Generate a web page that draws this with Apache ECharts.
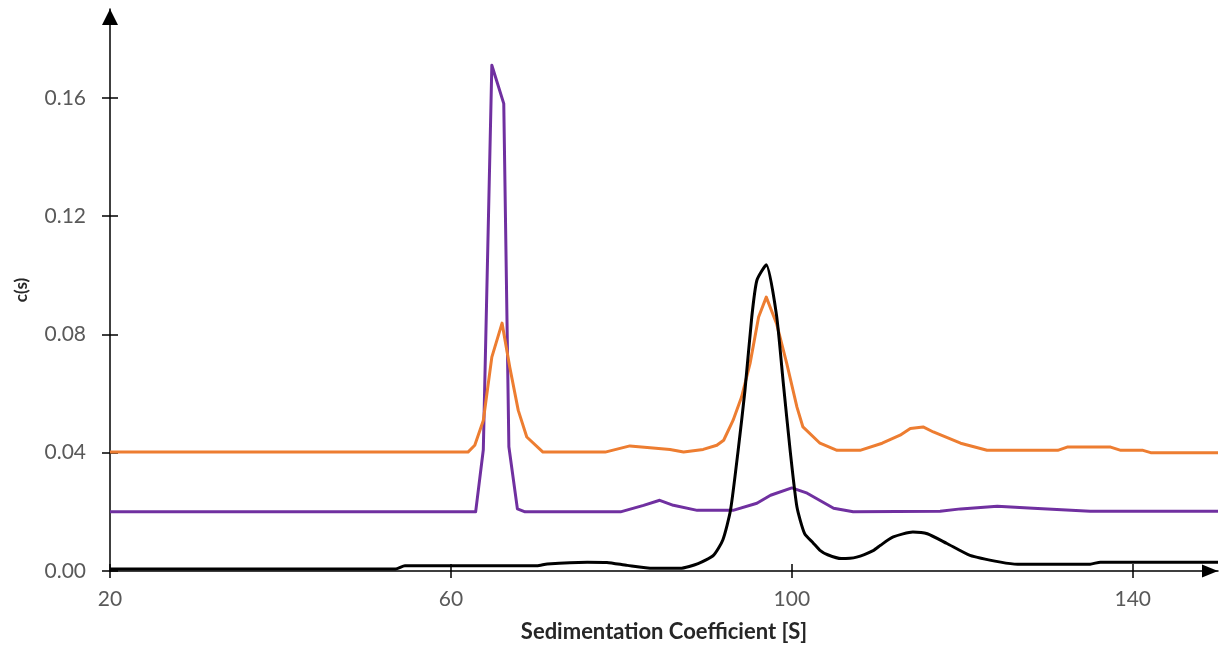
<!DOCTYPE html>
<html>
<head>
<meta charset="utf-8">
<title>c(s) distribution</title>
<script src="https://cdn.jsdelivr.net/npm/echarts@6/dist/echarts.min.js"></script>
<style>
  html, body { margin: 0; padding: 0; background: #ffffff; }
  #chart { width: 1221px; height: 646px; }
</style>
</head>
<body>
<div id="chart"></div>
<script>
// Sedimentation coefficient (S) vs c(s), one [s, c] pair per point
const purpleTrace = [
  [20, 0.0200], [62.9, 0.0200], [63.8, 0.0410], [64.8, 0.1710], [66.2, 0.1580],
  [66.8, 0.0420], [67.8, 0.0210], [68.7, 0.0200], [79.9, 0.0200], [82.6, 0.0222],
  [84.5, 0.0239], [86.1, 0.0222], [88.9, 0.0205], [93.1, 0.0205], [95.9, 0.0229],
  [97.5, 0.0256], [100.0, 0.0281], [101.8, 0.0263], [104.9, 0.0212], [107.2, 0.0200],
  [117.4, 0.0202], [119.8, 0.0210], [124.1, 0.0219], [128.3, 0.0212], [135.0, 0.0202],
  [150, 0.0202]
];

const orangeTrace = [
  [20, 0.0402], [62.0, 0.0402], [62.8, 0.0425], [63.8, 0.0509], [64.8, 0.0723],
  [66.0, 0.0838], [66.9, 0.0690], [67.9, 0.0543], [68.9, 0.0453], [70.8, 0.0402],
  [78.1, 0.0402], [81.0, 0.0423], [83.7, 0.0416], [85.7, 0.0411], [87.3, 0.0402],
  [89.6, 0.0411], [91.2, 0.0425], [92.0, 0.0442], [93.1, 0.0509], [94.1, 0.0588],
  [95.1, 0.0702], [96.1, 0.0859], [97.0, 0.0926], [98.2, 0.0837], [99.4, 0.0702],
  [100.6, 0.0554], [101.3, 0.0487], [103.3, 0.0432], [105.3, 0.0408], [108.0, 0.0408],
  [110.6, 0.0432], [112.7, 0.0459], [113.9, 0.0482], [115.4, 0.0487], [116.6, 0.0470],
  [119.8, 0.0432], [122.9, 0.0408], [131.2, 0.0408], [132.3, 0.0419], [137.4, 0.0419],
  [138.6, 0.0408], [141.2, 0.0408], [142.1, 0.0400], [150, 0.0400]
];

const blackTrace = [
  [20, 0.0007], [53.5, 0.0007], [54.6, 0.0018], [70.1, 0.0018], [71.3, 0.0024],
  [76.0, 0.0030], [78.3, 0.0029], [80.7, 0.0019], [83.7, 0.0009], [86.9, 0.0009],
  [89.0, 0.0025], [90.8, 0.0053], [91.9, 0.0105], [92.8, 0.0205], [93.7, 0.0408],
  [94.5, 0.0611], [95.3, 0.0859], [95.9, 0.0983], [97.0, 0.1035], [98.2, 0.0865],
  [99.0, 0.0634], [99.8, 0.0408], [100.6, 0.0216], [101.5, 0.0126], [102.5, 0.0095],
  [103.3, 0.0070], [104.2, 0.0055], [105.8, 0.0042], [107.6, 0.0047], [109.6, 0.0070],
  [110.4, 0.0087], [111.9, 0.0115], [114.2, 0.0132], [115.9, 0.0126], [118.2, 0.0093],
  [120.9, 0.0053], [124.5, 0.0030], [126.5, 0.0023], [135.0, 0.0023], [136.2, 0.0030],
  [150, 0.0030]
];

const xTicks = [20, 60, 100, 140];
const yTicks = [0, 0.04, 0.08, 0.12, 0.16];
const xRange = [20, 150];
const yRange = [0, 0.19];

const labelFont = { fontFamily: 'Lato', fontSize: 21, color: '#595959' };
const titleFont = { fontFamily: 'Lato', fontWeight: 'bold', fontSize: 22, color: '#262626' };
const axisStroke = { color: '#000000', width: 1.5 };

const chart = echarts.init(document.getElementById('chart'), null, { renderer: 'canvas' });

chart.setOption({
  animation: false,
  backgroundColor: '#ffffff',
  grid: { left: 110, right: 3, top: 9, bottom: 75, containLabel: false, outerBoundsMode: 'none' },
  xAxis: [
    {
      type: 'value', position: 'bottom', min: xRange[0], max: xRange[1],
      name: 'Sedimentation Coefficient [S]', nameLocation: 'middle', nameGap: 50,
      nameTextStyle: titleFont,
      axisLine: { show: true, onZero: false, lineStyle: axisStroke,
        symbol: ['none', 'triangle'], symbolSize: [13, 16], symbolOffset: [0, -8] },
      axisTick: { show: true, inside: false, length: 7, lineStyle: axisStroke, customValues: xTicks },
      axisLabel: Object.assign({ margin: 18, customValues: xTicks }, labelFont),
      splitLine: { show: false }
    },
    {
      type: 'value', position: 'bottom', min: xRange[0], max: xRange[1],
      axisLine: { show: false },
      axisTick: { show: true, inside: true, length: 7, lineStyle: axisStroke, customValues: xTicks },
      axisLabel: { show: false },
      splitLine: { show: false }
    }
  ],
  yAxis: [
    {
      type: 'value', position: 'left', min: yRange[0], max: yRange[1],
      name: 'c(s)', nameLocation: 'middle', nameGap: 80, nameRotate: 90,
      nameTextStyle: Object.assign({}, titleFont, { fontSize: 17 }),
      axisLine: { show: true, onZero: false, lineStyle: axisStroke,
        symbol: ['none', 'triangle'], symbolSize: [16, 16], symbolOffset: [0, -8] },
      axisTick: { show: true, inside: false, length: 8, lineStyle: axisStroke, customValues: yTicks },
      axisLabel: Object.assign({
        margin: 24, customValues: yTicks,
        formatter: (v) => v.toFixed(2)
      }, labelFont),
      splitLine: { show: false }
    },
    {
      type: 'value', position: 'left', min: yRange[0], max: yRange[1],
      axisLine: { show: false },
      axisTick: { show: true, inside: true, length: 8, lineStyle: axisStroke, customValues: yTicks },
      axisLabel: { show: false },
      splitLine: { show: false }
    }
  ],
  series: [
    {
      name: 'purple', type: 'line', data: purpleTrace, showSymbol: false,
      lineStyle: { color: '#7030A0', width: 3, join: 'round' }, z: 2
    },
    {
      name: 'orange', type: 'line', data: orangeTrace, showSymbol: false,
      lineStyle: { color: '#ED7D31', width: 3, join: 'round' }, z: 3
    },
    {
      name: 'black', type: 'line', data: blackTrace, showSymbol: false, smooth: 0.2,
      lineStyle: { color: '#000000', width: 3, join: 'round' }, z: 4
    }
  ]
});
</script>
</body>
</html>
